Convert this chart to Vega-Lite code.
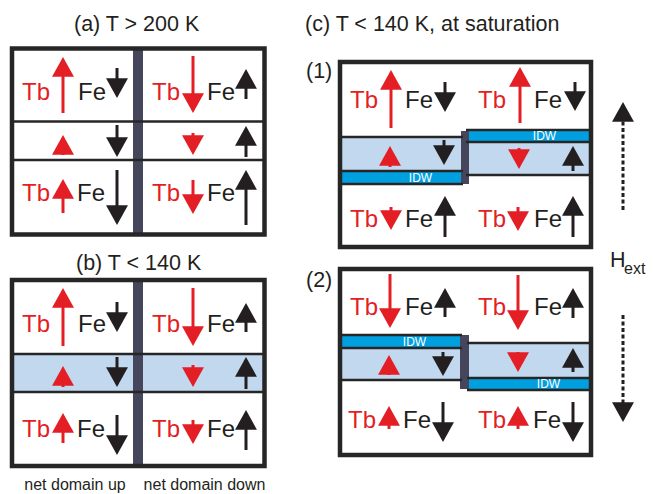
{
  "$schema": "https://vega.github.io/schema/vega-lite/v6.json",
  "width": 653,
  "height": 494,
  "padding": 0,
  "autosize": {"type": "none"},
  "background": "white",
  "config": {"view": {"stroke": null}},
  "datasets": {
    "boxes": [
      {"box": "a", "x": 12, "x2": 264.5, "y": 48.5, "y2": 234.5},
      {"box": "b", "x": 12, "x2": 264.5, "y": 280, "y2": 466},
      {"box": "c1", "x": 340, "x2": 591, "y": 62, "y2": 247},
      {"box": "c2", "x": 340, "x2": 591, "y": 269, "y2": 455}
    ],
    "fills": [
      {"kind": "band", "x": 12, "x2": 264.5, "y": 354, "y2": 392},
      {"kind": "wall", "x": 133, "x2": 143, "y": 48.5, "y2": 234.5},
      {"kind": "wall", "x": 133, "x2": 143, "y": 280, "y2": 466},
      {"kind": "band", "x": 340, "x2": 463, "y": 137, "y2": 171},
      {"kind": "idw", "x": 340, "x2": 463, "y": 171, "y2": 184},
      {"kind": "idw", "x": 466, "x2": 591, "y": 130, "y2": 142},
      {"kind": "band", "x": 466, "x2": 591, "y": 142, "y2": 175},
      {"kind": "wall", "x": 461, "x2": 469, "y": 131, "y2": 184},
      {"kind": "idw", "x": 340, "x2": 462, "y": 335, "y2": 348},
      {"kind": "band", "x": 340, "x2": 462, "y": 348, "y2": 380},
      {"kind": "band", "x": 467, "x2": 591, "y": 343, "y2": 378},
      {"kind": "idw", "x": 467, "x2": 591, "y": 378, "y2": 390},
      {"kind": "wall", "x": 460, "x2": 469, "y": 335, "y2": 389}
    ],
    "lines": [
      {"x": 12, "x2": 264.5, "y": 121.5},
      {"x": 12, "x2": 264.5, "y": 160},
      {"x": 12, "x2": 264.5, "y": 354},
      {"x": 12, "x2": 264.5, "y": 392},
      {"x": 340, "x2": 463, "y": 137},
      {"x": 340, "x2": 463, "y": 171},
      {"x": 340, "x2": 463, "y": 184},
      {"x": 466, "x2": 591, "y": 130},
      {"x": 466, "x2": 591, "y": 142},
      {"x": 466, "x2": 591, "y": 175},
      {"x": 340, "x2": 462, "y": 335},
      {"x": 340, "x2": 462, "y": 348},
      {"x": 340, "x2": 462, "y": 380},
      {"x": 467, "x2": 591, "y": 343},
      {"x": 467, "x2": 591, "y": 378},
      {"x": 467, "x2": 591, "y": 390}
    ],
    "arrows": [
      {"sp": "Tb", "dir": "up", "x": 63, "tail": 113, "base": 70, "tip": 57},
      {"sp": "Fe", "dir": "down", "x": 117, "tail": 68, "base": 85, "tip": 98},
      {"sp": "Tb", "dir": "down", "x": 193, "tail": 56, "base": 100, "tip": 113},
      {"sp": "Fe", "dir": "up", "x": 246, "tail": 99, "base": 82, "tip": 69},
      {"sp": "Tb", "dir": "up", "x": 63, "tail": 155, "base": 148, "tip": 135},
      {"sp": "Fe", "dir": "down", "x": 117, "tail": 125, "base": 144, "tip": 157},
      {"sp": "Tb", "dir": "down", "x": 193, "tail": 133, "base": 142, "tip": 155},
      {"sp": "Fe", "dir": "up", "x": 246, "tail": 157, "base": 139, "tip": 126},
      {"sp": "Tb", "dir": "up", "x": 63, "tail": 213, "base": 192, "tip": 179},
      {"sp": "Fe", "dir": "down", "x": 117, "tail": 170, "base": 212, "tip": 225},
      {"sp": "Tb", "dir": "down", "x": 193, "tail": 180, "base": 201, "tip": 214},
      {"sp": "Fe", "dir": "up", "x": 246, "tail": 225, "base": 183, "tip": 170},
      {"sp": "Tb", "dir": "up", "x": 63, "tail": 346, "base": 301, "tip": 288},
      {"sp": "Fe", "dir": "down", "x": 117, "tail": 302, "base": 319, "tip": 332},
      {"sp": "Tb", "dir": "down", "x": 193, "tail": 288, "base": 333, "tip": 346},
      {"sp": "Fe", "dir": "up", "x": 246, "tail": 332, "base": 316, "tip": 303},
      {"sp": "Tb", "dir": "up", "x": 63, "tail": 387, "base": 379, "tip": 366},
      {"sp": "Fe", "dir": "down", "x": 117, "tail": 357, "base": 374, "tip": 387},
      {"sp": "Tb", "dir": "down", "x": 193, "tail": 365, "base": 374, "tip": 387},
      {"sp": "Fe", "dir": "up", "x": 246, "tail": 389, "base": 370, "tip": 357},
      {"sp": "Tb", "dir": "up", "x": 63, "tail": 443, "base": 426, "tip": 413},
      {"sp": "Fe", "dir": "down", "x": 117, "tail": 415, "base": 442, "tip": 455},
      {"sp": "Tb", "dir": "down", "x": 193, "tail": 420, "base": 431, "tip": 444},
      {"sp": "Fe", "dir": "up", "x": 246, "tail": 450, "base": 423, "tip": 410},
      {"sp": "Tb", "dir": "up", "x": 391, "tail": 128, "base": 83, "tip": 70},
      {"sp": "Fe", "dir": "down", "x": 445, "tail": 82, "base": 99, "tip": 112},
      {"sp": "Tb", "dir": "up", "x": 520, "tail": 123, "base": 80, "tip": 67},
      {"sp": "Fe", "dir": "down", "x": 575, "tail": 82, "base": 98, "tip": 111},
      {"sp": "Tb", "dir": "up", "x": 390, "tail": 167, "base": 159, "tip": 146},
      {"sp": "Fe", "dir": "down", "x": 444, "tail": 140, "base": 152, "tip": 165},
      {"sp": "Tb", "dir": "down", "x": 519, "tail": 148, "base": 156, "tip": 169},
      {"sp": "Fe", "dir": "up", "x": 573, "tail": 171, "base": 159, "tip": 146},
      {"sp": "Tb", "dir": "down", "x": 391, "tail": 207, "base": 217, "tip": 230},
      {"sp": "Fe", "dir": "up", "x": 445, "tail": 237, "base": 209, "tip": 196},
      {"sp": "Tb", "dir": "down", "x": 518, "tail": 207, "base": 218, "tip": 231},
      {"sp": "Fe", "dir": "up", "x": 573, "tail": 237, "base": 209, "tip": 196},
      {"sp": "Tb", "dir": "down", "x": 390, "tail": 274, "base": 315, "tip": 328},
      {"sp": "Fe", "dir": "up", "x": 445, "tail": 317, "base": 301, "tip": 288},
      {"sp": "Tb", "dir": "down", "x": 518, "tail": 275, "base": 317, "tip": 330},
      {"sp": "Fe", "dir": "up", "x": 573, "tail": 318, "base": 301, "tip": 288},
      {"sp": "Tb", "dir": "up", "x": 389, "tail": 375, "base": 368, "tip": 355},
      {"sp": "Fe", "dir": "down", "x": 443, "tail": 352, "base": 363, "tip": 376},
      {"sp": "Tb", "dir": "down", "x": 518, "tail": 352, "base": 359, "tip": 372},
      {"sp": "Fe", "dir": "up", "x": 573, "tail": 372, "base": 361, "tip": 348},
      {"sp": "Tb", "dir": "up", "x": 389, "tail": 429, "base": 419, "tip": 406},
      {"sp": "Fe", "dir": "down", "x": 443, "tail": 402, "base": 429, "tip": 442},
      {"sp": "Tb", "dir": "up", "x": 518, "tail": 429, "base": 419, "tip": 406},
      {"sp": "Fe", "dir": "down", "x": 573, "tail": 402, "base": 429, "tip": 442},
      {"sp": "H", "dir": "up", "x": 623, "tail": 210, "base": 115, "tip": 102},
      {"sp": "H", "dir": "down", "x": 623, "tail": 315, "base": 409, "tip": 422}
    ],
    "cells": [
      {"label": "Tb", "x": 22, "y": 100}, {"label": "Fe", "x": 78, "y": 100},
      {"label": "Tb", "x": 152, "y": 100}, {"label": "Fe", "x": 207, "y": 100},
      {"label": "Tb", "x": 22, "y": 201}, {"label": "Fe", "x": 77, "y": 201},
      {"label": "Tb", "x": 152, "y": 201}, {"label": "Fe", "x": 207, "y": 201},
      {"label": "Tb", "x": 22, "y": 332}, {"label": "Fe", "x": 78, "y": 332},
      {"label": "Tb", "x": 152, "y": 332}, {"label": "Fe", "x": 207, "y": 332},
      {"label": "Tb", "x": 22, "y": 437}, {"label": "Fe", "x": 77, "y": 437},
      {"label": "Tb", "x": 152, "y": 437}, {"label": "Fe", "x": 207, "y": 437},
      {"label": "Tb", "x": 350, "y": 108}, {"label": "Fe", "x": 405, "y": 108},
      {"label": "Tb", "x": 478, "y": 108}, {"label": "Fe", "x": 534, "y": 108},
      {"label": "Tb", "x": 350, "y": 227}, {"label": "Fe", "x": 405, "y": 227},
      {"label": "Tb", "x": 478, "y": 227}, {"label": "Fe", "x": 534, "y": 227},
      {"label": "Tb", "x": 350, "y": 315}, {"label": "Fe", "x": 405, "y": 315},
      {"label": "Tb", "x": 478, "y": 315}, {"label": "Fe", "x": 534, "y": 315},
      {"label": "Tb", "x": 348, "y": 428}, {"label": "Fe", "x": 403, "y": 428},
      {"label": "Tb", "x": 478, "y": 428}, {"label": "Fe", "x": 533, "y": 428}
    ],
    "texts": [
      {"role": "title", "label": "(a) T > 200 K", "x": 74, "y": 31},
      {"role": "title", "label": "(b) T < 140 K", "x": 76, "y": 270},
      {"role": "title", "label": "(c) T < 140 K, at saturation", "x": 305, "y": 31},
      {"role": "title", "label": "(1)", "x": 306, "y": 78},
      {"role": "title", "label": "(2)", "x": 306, "y": 287},
      {"role": "title", "label": "H", "x": 610, "y": 267},
      {"role": "sub", "label": "ext", "x": 624, "y": 274},
      {"role": "caption", "label": "net domain up", "x": 75, "y": 490},
      {"role": "caption", "label": "net domain down", "x": 204.5, "y": 490},
      {"role": "idw", "label": "IDW", "x": 420.5, "y": 178},
      {"role": "idw", "label": "IDW", "x": 544.5, "y": 136},
      {"role": "idw", "label": "IDW", "x": 414.5, "y": 342},
      {"role": "idw", "label": "IDW", "x": 548.5, "y": 384}
    ]
  },
  "layer": [
    {
      "data": {"name": "boxes"},
      "mark": {"type": "rect", "fill": "white", "strokeWidth": 0},
      "encoding": {
        "x": {"field": "x", "type": "quantitative", "scale": {"domain": [0, 653], "nice": false, "zero": false}, "axis": null},
        "x2": {"field": "x2"},
        "y": {"field": "y", "type": "quantitative", "scale": {"domain": [0, 494], "nice": false, "zero": false, "reverse": true}, "axis": null},
        "y2": {"field": "y2"}
      }
    },
    {
      "data": {"name": "fills"},
      "mark": {"type": "rect", "strokeWidth": 0},
      "encoding": {
        "x": {"field": "x", "type": "quantitative", "scale": {"domain": [0, 653], "nice": false, "zero": false}, "axis": null},
        "x2": {"field": "x2"},
        "y": {"field": "y", "type": "quantitative", "scale": {"domain": [0, 494], "nice": false, "zero": false, "reverse": true}, "axis": null},
        "y2": {"field": "y2"},
        "fill": {"field": "kind", "type": "nominal", "scale": {"domain": ["band", "idw", "wall"], "range": ["#c1d8ef", "#00a0e0", "#45455c"]}, "legend": null}
      }
    },
    {
      "data": {"name": "lines"},
      "mark": {"type": "rule", "color": "#262626", "strokeWidth": 2.5},
      "encoding": {
        "x": {"field": "x", "type": "quantitative", "scale": {"domain": [0, 653], "nice": false, "zero": false}, "axis": null},
        "x2": {"field": "x2"},
        "y": {"field": "y", "type": "quantitative", "scale": {"domain": [0, 494], "nice": false, "zero": false, "reverse": true}, "axis": null}
      }
    },
    {
      "data": {"name": "boxes"},
      "mark": {"type": "rect", "fillOpacity": 0, "stroke": "#262626", "strokeWidth": 4.5},
      "encoding": {
        "x": {"field": "x", "type": "quantitative", "scale": {"domain": [0, 653], "nice": false, "zero": false}, "axis": null},
        "x2": {"field": "x2"},
        "y": {"field": "y", "type": "quantitative", "scale": {"domain": [0, 494], "nice": false, "zero": false, "reverse": true}, "axis": null},
        "y2": {"field": "y2"}
      }
    },
    {
      "data": {"name": "arrows"},
      "transform": [{"filter": "datum.sp !== 'H'"}],
      "mark": {"type": "rule", "strokeWidth": 3},
      "encoding": {
        "x": {"field": "x", "type": "quantitative", "scale": {"domain": [0, 653], "nice": false, "zero": false}, "axis": null},
        "y": {"field": "tail", "type": "quantitative", "scale": {"domain": [0, 494], "nice": false, "zero": false, "reverse": true}, "axis": null},
        "y2": {"field": "base"},
        "color": {"field": "sp", "type": "nominal", "scale": {"domain": ["Tb", "Fe", "H"], "range": ["#e31e25", "#231f20", "#231f20"]}, "legend": null}
      }
    },
    {
      "data": {"name": "arrows"},
      "transform": [{"filter": "datum.sp === 'H'"}],
      "mark": {"type": "rule", "strokeWidth": 3, "strokeDash": [4, 2.5]},
      "encoding": {
        "x": {"field": "x", "type": "quantitative", "scale": {"domain": [0, 653], "nice": false, "zero": false}, "axis": null},
        "y": {"field": "tail", "type": "quantitative", "scale": {"domain": [0, 494], "nice": false, "zero": false, "reverse": true}, "axis": null},
        "y2": {"field": "base"},
        "color": {"field": "sp", "type": "nominal", "scale": {"domain": ["Tb", "Fe", "H"], "range": ["#e31e25", "#231f20", "#231f20"]}, "legend": null}
      }
    },
    {
      "data": {"name": "arrows"},
      "mark": {"type": "point", "filled": true, "opacity": 1, "size": 480, "strokeWidth": 0},
      "encoding": {
        "x": {"field": "x", "type": "quantitative", "scale": {"domain": [0, 653], "nice": false, "zero": false}, "axis": null},
        "y": {"field": "tip", "type": "quantitative", "scale": {"domain": [0, 494], "nice": false, "zero": false, "reverse": true}, "axis": null},
        "shape": {"field": "dir", "type": "nominal", "scale": {"domain": ["up", "down"], "range": ["M0,0L1,1.8L-1,1.8Z", "M0,0L1,-1.8L-1,-1.8Z"]}, "legend": null},
        "color": {"field": "sp", "type": "nominal", "scale": {"domain": ["Tb", "Fe", "H"], "range": ["#e31e25", "#231f20", "#231f20"]}, "legend": null}
      }
    },
    {
      "data": {"name": "cells"},
      "mark": {"type": "text", "font": "Liberation Sans", "fontSize": 24, "align": "left", "baseline": "alphabetic"},
      "encoding": {
        "x": {"field": "x", "type": "quantitative", "scale": {"domain": [0, 653], "nice": false, "zero": false}, "axis": null},
        "y": {"field": "y", "type": "quantitative", "scale": {"domain": [0, 494], "nice": false, "zero": false, "reverse": true}, "axis": null},
        "text": {"field": "label"},
        "color": {"field": "label", "type": "nominal", "scale": {"domain": ["Tb", "Fe"], "range": ["#e31e25", "#231f20"]}, "legend": null}
      }
    },
    {
      "data": {"name": "texts"},
      "transform": [{"filter": "datum.role === 'title'"}],
      "mark": {"type": "text", "font": "Liberation Sans", "fontSize": 21.5, "align": "left", "baseline": "alphabetic", "color": "#231f20"},
      "encoding": {
        "x": {"field": "x", "type": "quantitative", "scale": {"domain": [0, 653], "nice": false, "zero": false}, "axis": null},
        "y": {"field": "y", "type": "quantitative", "scale": {"domain": [0, 494], "nice": false, "zero": false, "reverse": true}, "axis": null},
        "text": {"field": "label"}
      }
    },
    {
      "data": {"name": "texts"},
      "transform": [{"filter": "datum.role === 'sub'"}],
      "mark": {"type": "text", "font": "Liberation Sans", "fontSize": 16, "align": "left", "baseline": "alphabetic", "color": "#231f20"},
      "encoding": {
        "x": {"field": "x", "type": "quantitative", "scale": {"domain": [0, 653], "nice": false, "zero": false}, "axis": null},
        "y": {"field": "y", "type": "quantitative", "scale": {"domain": [0, 494], "nice": false, "zero": false, "reverse": true}, "axis": null},
        "text": {"field": "label"}
      }
    },
    {
      "data": {"name": "texts"},
      "transform": [{"filter": "datum.role === 'caption'"}],
      "mark": {"type": "text", "font": "Liberation Sans", "fontSize": 16, "align": "center", "baseline": "alphabetic", "color": "#231f20"},
      "encoding": {
        "x": {"field": "x", "type": "quantitative", "scale": {"domain": [0, 653], "nice": false, "zero": false}, "axis": null},
        "y": {"field": "y", "type": "quantitative", "scale": {"domain": [0, 494], "nice": false, "zero": false, "reverse": true}, "axis": null},
        "text": {"field": "label"}
      }
    },
    {
      "data": {"name": "texts"},
      "transform": [{"filter": "datum.role === 'idw'"}],
      "mark": {"type": "text", "font": "Liberation Sans", "fontSize": 12, "align": "center", "baseline": "middle", "color": "white"},
      "encoding": {
        "x": {"field": "x", "type": "quantitative", "scale": {"domain": [0, 653], "nice": false, "zero": false}, "axis": null},
        "y": {"field": "y", "type": "quantitative", "scale": {"domain": [0, 494], "nice": false, "zero": false, "reverse": true}, "axis": null},
        "text": {"field": "label"}
      }
    }
  ]
}
